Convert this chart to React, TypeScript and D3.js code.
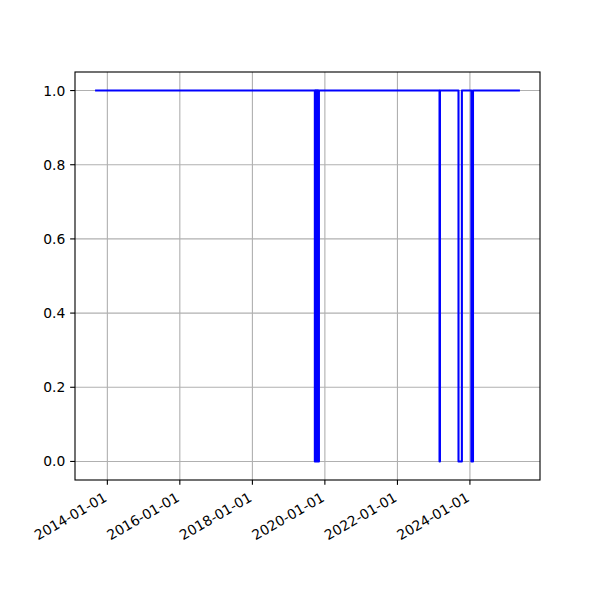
import React from "react";
import * as d3 from "d3";

// Change points of the series (value holds until the next date)
const dates: string[] = [
  "2013-09-10",
  "2019-09-22", "2019-09-25", "2019-09-28", "2019-10-01", "2019-10-04",
  "2019-10-07", "2019-10-10", "2019-10-13", "2019-10-16", "2019-10-19",
  "2019-10-22", "2019-10-25", "2019-10-28", "2019-11-02",
  "2023-03-01", "2023-03-05",
  "2023-09-08", "2023-10-12",
  "2024-01-16", "2024-02-01",
  "2025-05-08",
];
const values: number[] = [
  1,
  0, 1, 0, 1, 0,
  1, 0, 1, 0, 1,
  0, 1, 0, 1,
  0, 1,
  0, 1,
  0, 1,
  1,
];
const xTickDates: string[] = [
  "2014-01-01", "2016-01-01", "2018-01-01", "2020-01-01", "2022-01-01", "2024-01-01",
];
const yTicks: number[] = [0, 0.2, 0.4, 0.6, 0.8, 1.0];

const W = 600, H = 600;
const L = 75, R = 540, T = 72, B = 480;
const PT = 100 / 72;
const FS = 10 * PT;
const TICK = 3.5 * PT;
const PAD = 3.5 * PT;
const FONT = "DejaVu Sans, sans-serif";

export default function App() {
  const parse = d3.utcParse("%Y-%m-%d");
  const pts = dates.map((d, i) => ({ t: parse(d)!, v: values[i] }));
  const [t0, t1] = d3.extent(pts, (p) => p.t.getTime()) as [number, number];
  const span = t1 - t0;
  const x = d3.scaleUtc().domain([new Date(t0 - 0.05 * span), new Date(t1 + 0.05 * span)]).range([L, R]);
  const y = d3.scaleLinear().domain([-0.05, 1.05]).range([B, T]);
  const line = d3
    .line<{ t: Date; v: number }>()
    .x((p) => x(p.t))
    .y((p) => y(p.v))
    .curve(d3.curveStepAfter);

  const xt = xTickDates.map((d) => parse(d)!);

  return (
    <svg width={W} height={H} style={{ position: "absolute", left: 0, top: 0, background: "#fff" }} fontFamily={FONT}>
      <rect x={0} y={0} width={W} height={H} fill="#fff" />
      {/* grid */}
      <g stroke="#b0b0b0" strokeWidth={0.8 * PT}>
        {xt.map((d, i) => (
          <line key={"gx" + i} x1={x(d)} x2={x(d)} y1={T} y2={B} />
        ))}
        {yTicks.map((v, i) => (
          <line key={"gy" + i} x1={L} x2={R} y1={y(v)} y2={y(v)} />
        ))}
      </g>
      {/* data line */}
      <path
        d={line(pts) || ""}
        fill="none"
        stroke="#0000ff"
        strokeWidth={1.5 * PT}
        strokeLinejoin="round"
        strokeLinecap="square"
      />
      {/* spines */}
      <rect x={L} y={T} width={R - L} height={B - T} fill="none" stroke="#000" strokeWidth={0.8 * PT} />
      {/* x ticks */}
      <g>
        {xt.map((d, i) => (
          <g key={"xt" + i}>
            <line x1={x(d)} x2={x(d)} y1={B} y2={B + TICK} stroke="#000" strokeWidth={0.8 * PT} />
            <text
              transform={`translate(${x(d) + 0.5},${B + TICK + PAD + 10.5}) rotate(-30)`}
              textAnchor="end"
              fontSize={FS}
              fill="#000"
            >
              {xTickDates[i]}
            </text>
          </g>
        ))}
      </g>
      {/* y ticks */}
      <g>
        {yTicks.map((v, i) => (
          <g key={"yt" + i}>
            <line x1={L - TICK} x2={L} y1={y(v)} y2={y(v)} stroke="#000" strokeWidth={0.8 * PT} />
            <text
              x={L - TICK - PAD}
              y={y(v)}
              dy="0.36em"
              textAnchor="end"
              fontSize={FS}
              fill="#000"
            >
              {v.toFixed(1)}
            </text>
          </g>
        ))}
      </g>
    </svg>
  );
}
